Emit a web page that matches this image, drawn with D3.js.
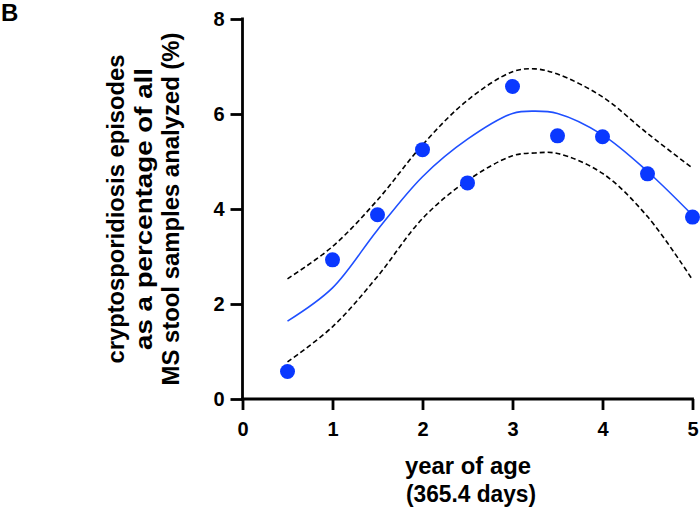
<!DOCTYPE html>
<html><head><meta charset="utf-8">
<script src="https://cdn.jsdelivr.net/npm/d3@7"></script>
<style>body{margin:0;background:#fff}svg{display:block}text{font-family:"Liberation Sans",Arial,sans-serif;font-weight:bold;fill:#000}</style>
</head><body>
<script>
const ageYears = [0.5, 1, 1.5, 2, 2.5, 3, 3.5, 4, 4.5, 5];
const episodePct = [0.58, 2.93, 3.88, 5.25, 4.55, 6.58, 5.54, 5.52, 4.74, 3.83];
const fitX =     [0.5, 1, 1.5, 2, 2.5, 3, 3.25, 3.5, 4, 4.5, 5];
const fitY =     [1.64, 2.34, 3.56, 4.68, 5.47, 6.01, 6.06, 6.01, 5.56, 4.79, 3.87];
const upperY =   [2.53, 3.21, 4.19, 5.35, 6.29, 6.89, 6.95, 6.84, 6.36, 5.59, 4.86];
const lowerY =   [0.78, 1.52, 2.58, 3.80, 4.60, 5.12, 5.18, 5.17, 4.75, 3.84, 2.51];
const xTicks = [0, 1, 2, 3, 4, 5];
const yTicks = [0, 2, 4, 6, 8];

const W = 700, H = 509;
const svg = d3.select("body").append("svg").attr("width", W).attr("height", H);
const x = d3.scaleLinear().domain([0, 5]).range([242.5, 692.5]);
const y = d3.scaleLinear().domain([0, 8]).range([399, 19]);

const xAxis = svg.append("g").attr("transform", "translate(0,399)")
  .call(d3.axisBottom(x).tickValues(xTicks).tickFormat(d3.format("d")).tickSize(11).tickPadding(12).tickSizeOuter(0));
const yAxis = svg.append("g").attr("transform", "translate(242.5,0)")
  .call(d3.axisLeft(y).tickValues(yTicks).tickFormat(d3.format("d")).tickSize(12).tickPadding(6).tickSizeOuter(0));
[xAxis, yAxis].forEach(g => {
  g.select(".domain").attr("stroke", "#000").attr("stroke-width", 2.8);
  g.selectAll(".tick line").attr("stroke", "#000").attr("stroke-width", 2.8);
  g.selectAll(".tick text").style("font-size", "20px").style("font-weight", "bold")
    .style("font-family", '"Liberation Sans",Arial,sans-serif').attr("fill", "#000");
});
xAxis.select(".domain").attr("d", "M" + (242.5 - 1.4) + ",0H" + (692.5 + 1.4));
yAxis.select(".domain").attr("d", "M0," + (399 + 1.4) + "V17.6");

const line = (ys) => d3.line().x((d, i) => x(fitX[i])).y(d => y(d)).curve(d3.curveCatmullRom.alpha(0.5))(ys);
svg.append("path").attr("d", line(upperY)).attr("fill", "none").attr("stroke", "#000").attr("stroke-width", 1.6).attr("stroke-dasharray", "5,3");
svg.append("path").attr("d", line(lowerY)).attr("fill", "none").attr("stroke", "#000").attr("stroke-width", 1.6).attr("stroke-dasharray", "5,3");
svg.append("path").attr("d", line(fitY)).attr("fill", "none").attr("stroke", "#1f4fff").attr("stroke-width", 1.6);

svg.append("g").selectAll("circle").data(ageYears).join("circle")
  .attr("cx", d => x(d)).attr("cy", (d, i) => y(episodePct[i])).attr("r", 7.5).attr("fill", "#0a38ff");

svg.append("text").attr("x", 1).attr("y", 21).style("font-size", "24px").text("B");

const xt = svg.append("text").attr("text-anchor", "middle").style("font-size", "23px");
xt.append("tspan").attr("x", 468).attr("y", 473.5).attr("textLength", 126).attr("lengthAdjust", "spacingAndGlyphs").text("year of age");
xt.append("tspan").attr("x", 471).attr("y", 501.5).attr("textLength", 130).attr("lengthAdjust", "spacingAndGlyphs").text("(365.4 days)");

const yl = ["cryptosporidiosis episodes", "as a percentage of all", "MS stool samples analyzed (%)"];
const yLen = [309, 282, 353];
const yt = svg.append("g").attr("transform", "translate(0,209) rotate(-90)");
yl.forEach((t, i) => yt.append("text").attr("text-anchor", "middle").style("font-size", "23px")
  .attr("x", 0).attr("y", 124 + i * 27.5).attr("textLength", yLen[i]).attr("lengthAdjust", "spacingAndGlyphs").text(t));
</script>
</body></html>
